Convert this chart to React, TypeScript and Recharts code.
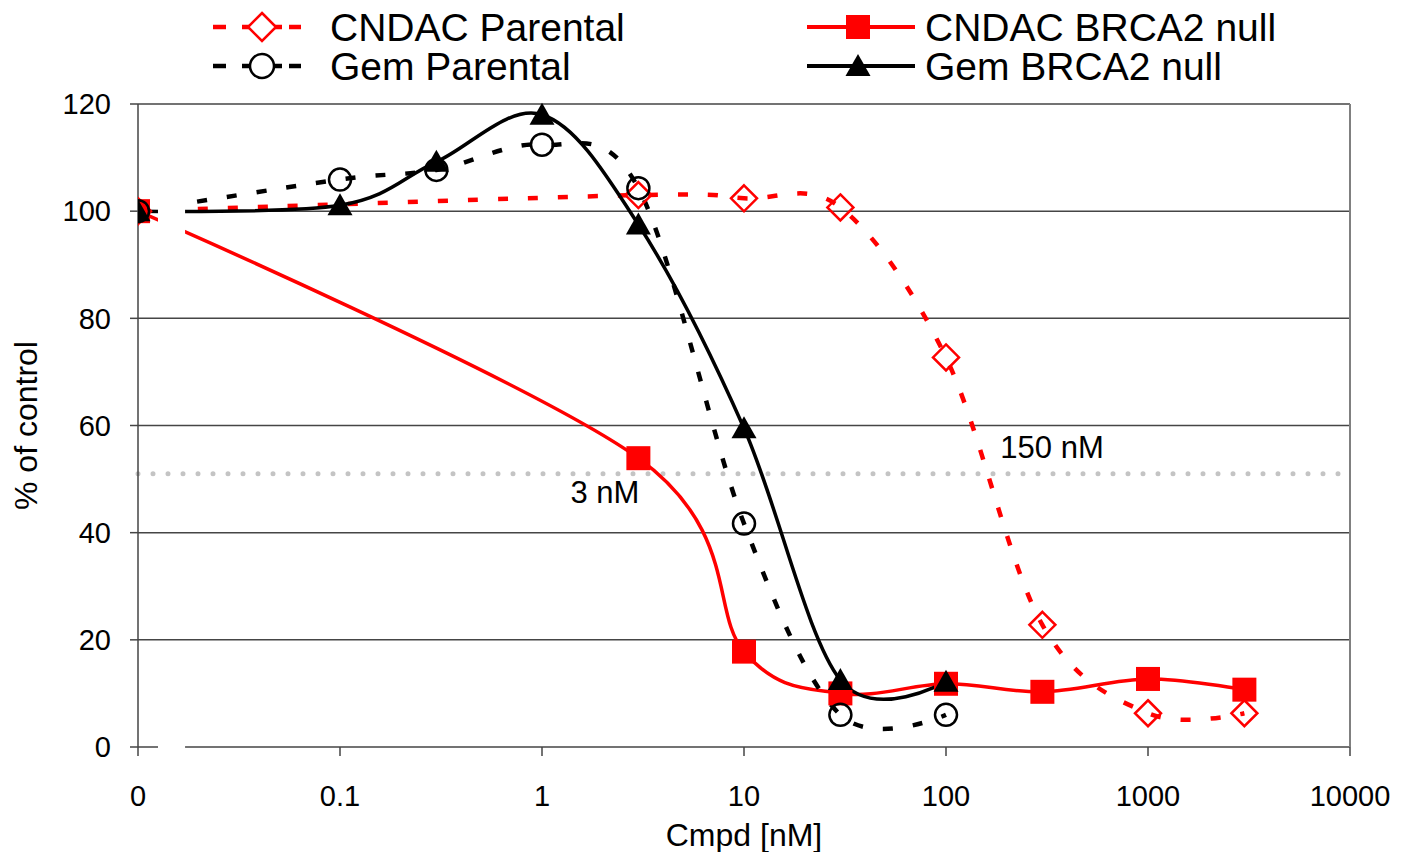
import { LineChart, Line, XAxis, YAxis, CartesianGrid, ReferenceLine, ReferenceArea, ReferenceDot, Legend } from "recharts"

// doses (nM); the "0" dose sits at 0.01 on the log axis
const cndacDoses = [0.01, 3, 10, 30, 100, 300, 1000, 3000]
const cndacParental = [100, 103, 102.4, 100.7, 72.7, 22.8, 6.3, 6.3]
const cndacBrca2Null = [100, 53.9, 17.8, 10, 11.8, 10.3, 12.7, 10.7]

const gemDoses = [0.01, 0.1, 0.3, 1, 3, 10, 30, 100]
const gemParental = [100, 105.9, 107.7, 112.4, 104.3, 41.7, 6, 6]
const gemBrca2Null = [100, 101.1, 109.2, 118, 97.5, 59.5, 12.5, 12.2]

const xTicks = [0.01, 0.1, 1, 10, 100, 1000, 10000]
const yTicks = [0, 20, 40, 60, 80, 100, 120]
const gridValues = [20, 40, 60, 80, 100, 120]
const halfLine = 51
const ic50Labels = [
  { x: 2.05, y: 47.6, text: "3 nM" },
  { x: 335, y: 56, text: "150 nM" },
]
const axisBreak = [0.01256, 0.0171]

const toRows = (xs: number[], ys: number[]) => xs.map((x, i) => ({ x, y: ys[i] }))

const FONT = "'Liberation Sans', Arial, sans-serif"
const RED = "#ff0000"
const GRID = "#454545"

// Excel-like smoothed line (Catmull-Rom, same as d3 curveCardinal tension 0)
function catmullRom(context: any) {
  const k = 1 / 6
  const s: any = { _context: context }
  const seg = (x: number, y: number) => {
    context.bezierCurveTo(
      s._x1 + k * (s._x2 - s._x0),
      s._y1 + k * (s._y2 - s._y0),
      s._x2 + k * (s._x1 - x),
      s._y2 + k * (s._y1 - y),
      s._x2,
      s._y2
    )
  }
  s.areaStart = () => { s._line = 0 }
  s.areaEnd = () => { s._line = NaN }
  s.lineStart = () => {
    s._x0 = s._x1 = s._x2 = s._y0 = s._y1 = s._y2 = NaN
    s._point = 0
  }
  s.lineEnd = () => {
    if (s._point === 2) context.lineTo(s._x2, s._y2)
    else if (s._point === 3) seg(s._x1, s._y1)
    if (s._line || (s._line !== 0 && s._point === 1)) context.closePath()
    s._line = 1 - s._line
  }
  s.point = (x: number, y: number) => {
    x = +x
    y = +y
    if (s._point === 0) {
      s._point = 1
      s._line ? context.lineTo(x, y) : context.moveTo(x, y)
    } else if (s._point === 1) {
      s._point = 2
      s._x1 = x
      s._y1 = y
    } else {
      s._point = 3
      seg(x, y)
    }
    s._x0 = s._x1; s._x1 = s._x2; s._x2 = x
    s._y0 = s._y1; s._y1 = s._y2; s._y2 = y
  }
  return s
}

const diamondPath = (cx: number, cy: number, r: number) =>
  `M${cx},${cy - r}L${cx + r},${cy}L${cx},${cy + r}L${cx - r},${cy}Z`
const trianglePath = (cx: number, cy: number) =>
  `M${cx},${cy - 12}L${cx + 12.5},${cy + 10}L${cx - 12.5},${cy + 10}Z`

const DiamondDot = (p: any) =>
  p.cx == null ? null : (
    <path key={`dm${p.index}`} d={diamondPath(p.cx, p.cy, 13)} fill="none" stroke={RED} strokeWidth={2.5} />
  )
const SquareDot = (p: any) =>
  p.cx == null ? null : <rect key={`sq${p.index}`} x={p.cx - 12} y={p.cy - 12} width={24} height={24} fill={RED} />
const CircleDot = (p: any) =>
  p.cx == null ? null : (
    <circle key={`ci${p.index}`} cx={p.cx} cy={p.cy} r={11} fill="none" stroke="#000" strokeWidth={2.5} />
  )
const TriangleDot = (p: any) =>
  p.cx == null ? null : <path key={`tr${p.index}`} d={trianglePath(p.cx, p.cy)} fill="#000" />

// dashed legend sample: dash, gap, marker with stubs, gap, dash
const DashedSample = ({ y, color }: { y: number; color: string }) => (
  <g stroke={color} strokeWidth={4.5}>
    <line x1={213} y1={y} x2={226} y2={y} />
    <line x1={242} y1={y} x2={282} y2={y} />
    <line x1={289} y1={y} x2={301} y2={y} />
  </g>
)

const renderLegend = () => (
  <svg width={1402} height={95} style={{ fontFamily: FONT }}>
    <DashedSample y={27} color={RED} />
    <path d={diamondPath(262, 27, 14)} fill="#fff" stroke={RED} strokeWidth={2.5} />
    <text x={330} y={41} fontSize={39}>CNDAC Parental</text>
    <DashedSample y={66} color="#000" />
    <circle cx={262} cy={66} r={12} fill="#fff" stroke="#000" strokeWidth={2.5} />
    <text x={330} y={80} fontSize={39}>Gem Parental</text>
    <line x1={807} y1={27} x2={915} y2={27} stroke={RED} strokeWidth={4} />
    <rect x={846} y={15} width={24} height={24} fill={RED} />
    <text x={925} y={41} fontSize={39}>CNDAC BRCA2 null</text>
    <line x1={807} y1={66} x2={915} y2={66} stroke="#000" strokeWidth={4} />
    <path d={trianglePath(858, 66)} fill="#000" />
    <text x={925} y={80} fontSize={39}>Gem BRCA2 null</text>
  </svg>
)

export default function App() {
  return (
    <div style={{ position: "absolute", left: 0, top: 0, background: "#fff" }}>
      <LineChart
        width={1402}
        height={852}
        margin={{ top: 104, right: 52, bottom: 0, left: 0 }}
        style={{ fontFamily: FONT }}
      >
        <CartesianGrid horizontal vertical={false} horizontalValues={gridValues} stroke={GRID} strokeWidth={1.5} />
        <XAxis
          dataKey="x"
          type="number"
          scale="log"
          domain={[0.01, 10000]}
          ticks={xTicks}
          allowDataOverflow
          height={105}
          axisLine={false}
          tickLine={{ stroke: GRID, strokeWidth: 1.5 }}
          tickSize={9}
          tickMargin={29}
          tick={{ fontSize: 29, fill: "#000" }}
          tickFormatter={(v: number) => (v === 0.01 ? "0" : String(v))}
          label={{ value: "Cmpd [nM]", position: "insideBottom", offset: 6, fontSize: 32, fill: "#000" }}
        />
        <YAxis
          type="number"
          domain={[0, 120]}
          ticks={yTicks}
          width={138}
          axisLine={{ stroke: GRID, strokeWidth: 1.5 }}
          tickLine={{ stroke: GRID, strokeWidth: 1.5 }}
          tickSize={8}
          tickMargin={19}
          tick={{ fontSize: 29, fill: "#000" }}
          label={{
            value: "% of control",
            angle: -90,
            position: "insideLeft",
            offset: 26,
            fontSize: 32,
            fill: "#000",
            style: { textAnchor: "middle" },
          }}
        />
        <ReferenceLine segment={[{ x: 0.01, y: 0 }, { x: axisBreak[0], y: 0 }]} stroke={GRID} strokeWidth={1.5} />
        <ReferenceLine segment={[{ x: axisBreak[1], y: 0 }, { x: 10000, y: 0 }]} stroke={GRID} strokeWidth={1.5} />
        <ReferenceLine x={10000} stroke="#808080" strokeWidth={2} />
        <ReferenceLine
          y={halfLine}
          stroke="#c4c4c4"
          strokeWidth={5}
          strokeDasharray="0 15"
          strokeLinecap="round"
        />
        <Line
          data={toRows(cndacDoses, cndacParental)}
          dataKey="y"
          name="CNDAC Parental"
          type={catmullRom as any}
          stroke={RED}
          strokeWidth={4.5}
          strokeDasharray="10 20"
          dot={DiamondDot}
          activeDot={false}
          isAnimationActive={false}
        />
        <Line
          data={toRows(cndacDoses, cndacBrca2Null)}
          dataKey="y"
          name="CNDAC BRCA2 null"
          type={catmullRom as any}
          stroke={RED}
          strokeWidth={3.5}
          dot={SquareDot}
          activeDot={false}
          isAnimationActive={false}
        />
        <Line
          data={toRows(gemDoses, gemParental)}
          dataKey="y"
          name="Gem Parental"
          type={catmullRom as any}
          stroke="#000"
          strokeWidth={4.5}
          strokeDasharray="10 20"
          dot={CircleDot}
          activeDot={false}
          isAnimationActive={false}
        />
        <Line
          data={toRows(gemDoses, gemBrca2Null)}
          dataKey="y"
          name="Gem BRCA2 null"
          type={catmullRom as any}
          stroke="#000"
          strokeWidth={3.5}
          dot={TriangleDot}
          activeDot={false}
          isAnimationActive={false}
        />
        <ReferenceArea
          x1={axisBreak[0]}
          x2={axisBreak[1]}
          y1={93}
          y2={104}
          fill="#fff"
          fillOpacity={1}
          stroke="none"
          zIndex={1000}
        />
        {ic50Labels.map((a) => (
          <ReferenceDot
            key={a.text}
            x={a.x}
            y={a.y}
            r={0}
            stroke="none"
            fill="none"
            label={{ value: a.text, position: "center", fontSize: 31, fill: "#000" }}
          />
        ))}
        <Legend
          layout="horizontal"
          verticalAlign="middle"
          align="center"
          content={renderLegend}
          wrapperStyle={{ top: 0, left: 0, width: 1402, height: 95 }}
        />
      </LineChart>
    </div>
  )
}
